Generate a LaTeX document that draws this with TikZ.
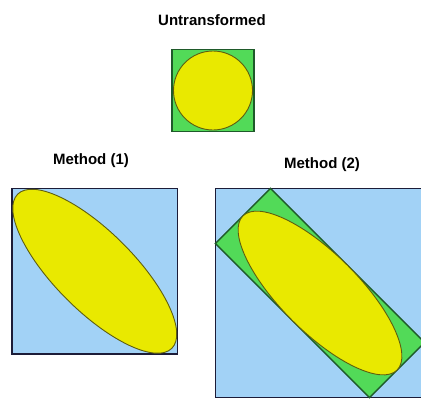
\documentclass[tikz,border=0pt]{standalone}
\usepackage{fontspec}
\setmainfont{Liberation Sans}
\definecolor{bgblue}{HTML}{A2D2F6}
\definecolor{sqgreen}{HTML}{52DA58}
\definecolor{elyellow}{HTML}{E9E900}
\definecolor{boxline}{HTML}{1C1C38}
\definecolor{greenline}{HTML}{1F5A2A}
\definecolor{elline}{HTML}{5E5E10}
\tikzset{
  lbl/.style={font=\fontsize{15}{17}\selectfont\bfseries, inner sep=0pt},
  bluebox/.style={fill=bgblue, draw=boxline, line width=1.4pt},
  greenbox/.style={fill=sqgreen, draw=greenline, line width=1.3pt},
  yellowel/.style={fill=elyellow, draw=elline, line width=0.9pt}
}
\begin{document}
\begin{tikzpicture}[x=1pt,y=-1pt]
\useasboundingbox (0,0) rectangle (421,399);
\clip (0,0) rectangle (421,399);
% labels
\node[lbl] (t0) at (212,20) {Untransformed};
\node[lbl] (t1) at (91,161) {Method (1)};
\node[lbl] (t2) at (322,165) {Method (2)};
% untransformed
\draw[greenbox] (172,49.5) rectangle (254,131.5);
\draw[yellowel] (213,90.5) circle (39.5);
% method 1
\draw[bluebox] (12,188.5) rectangle (177.5,354);
\draw[yellowel, rotate around={-45:(94.75,271.25)}] (94.75,271.25) ellipse (109 and 39.5);
% method 2
\draw[bluebox] (215.5,188.5) rectangle (424.5,397.5);
\draw[greenbox, rotate around={-45:(320,293)}] (211,254) rectangle (429,332);
\draw[yellowel, rotate around={-45:(320,293)}] (320,293) ellipse (109 and 39);
\end{tikzpicture}
\end{document}
